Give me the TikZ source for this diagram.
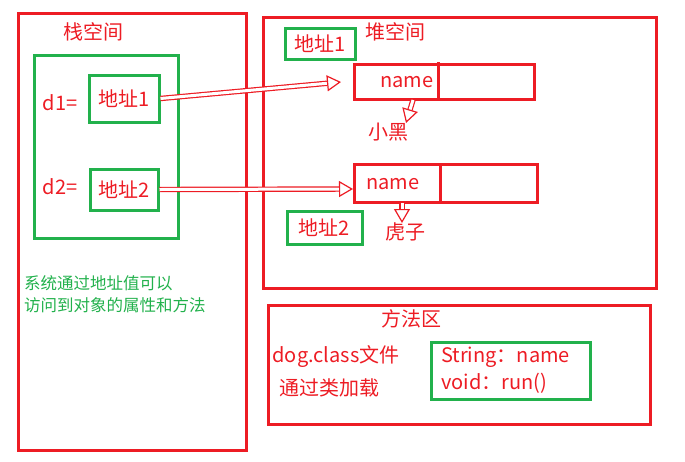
\documentclass[tikz,border=0pt]{standalone}
\usepackage{fontspec}
\setmainfont{Noto Sans CJK SC}
\usetikzlibrary{positioning,arrows.meta}
\definecolor{pred}{RGB}{237,28,36}
\definecolor{pgreen}{RGB}{34,177,76}

\begin{document}
\begin{tikzpicture}[x=1pt,y=-1pt,
  redbox/.style={rectangle, draw=pred, line width=3pt, inner sep=0pt},
  greenbox/.style={rectangle, draw=pgreen, line width=3pt, inner sep=0pt, text=pred},
  lbl/.style={text=pred, inner sep=0pt},
  ptr/.style={draw=pred, line width=1.2pt, double, double distance=3pt,
    -{Triangle[open, length=14pt, width=16pt, line width=1.2pt, fill=white]}},
  font=\fontsize{20}{22}\selectfont]
  \useasboundingbox (0,0) rectangle (685,461);
  % three memory areas
  \node[redbox, minimum width=228pt, minimum height=437pt] (stack) at (132,231.5) {};
  \node[redbox, minimum width=393pt, minimum height=271pt] (heap) at (459.5,152.5) {};
  \node[redbox, minimum width=382pt, minimum height=119pt] (method) at (459,364.5) {};
  \node[lbl] (stacktitle) at (93,32) {栈空间};
  \node[lbl] (heaptitle) at (395,32) {堆空间};
  \node[lbl] (methodtitle) at (411,319) {方法区};

  % stack
  \node[greenbox, minimum width=144pt, minimum height=183pt] (frame) at (106,146.5) {};
  \node[greenbox, minimum width=70pt, minimum height=47pt] (addr1) at (124,98.5) {地址1};
  \node[greenbox, minimum width=68pt, minimum height=41pt] (addr2) at (124,189.5) {地址2};
  \node[lbl] (d1) at (60,103) {d1=};
  \node[lbl] (d2) at (60,187) {d2=};
  \node[lbl, text=pgreen, anchor=west, align=left, font=\fontsize{16.5}{22}\selectfont]
    (note) at (24,294) {系统通过地址值可以\\访问到对象的属性和方法};

  % heap
  \node[greenbox, minimum width=70pt, minimum height=31pt] (haddr1) at (320,43.5) {地址1};
  \node[greenbox, minimum width=75pt, minimum height=33pt] (haddr2) at (324.5,227.5) {地址2};
  \node[redbox, minimum width=180pt, minimum height=35pt] (obj1) at (444,81.5) {};
  \node[redbox, minimum width=183pt, minimum height=38pt] (obj2) at (445.5,183) {};
  \draw[pred, line width=3pt] (438,62) -- (438,99);
  \draw[pred, line width=3pt] (440,164) -- (440,202);
  \node[lbl] (name1) at (407,82) {name};
  \node[lbl] (name2) at (393,184) {name};
  \node[lbl] (val1) at (388,132) {小黑};
  \node[lbl] (val2) at (405,232) {虎子};

  % method area
  \node[lbl] (dogclass) at (336,357) {dog.class文件};
  \node[lbl] (load) at (329,388) {通过类加载};
  \node[greenbox, minimum width=159pt, minimum height=57pt] (members) at (510.5,370.5) {};
  \node[lbl, anchor=west, align=left, font=\fontsize{20}{27}\selectfont]
    (fields) at (441,370) {String：name\\void：run()};

  % references
  \coordinate (t1) at (341,82);
  \coordinate (t2) at (353,189);
  \coordinate (s3) at (413,100);
  \coordinate (t3) at (406,123);
  \coordinate (s4) at (402,203);
  \coordinate (t4) at (402,223);
  \draw[ptr] (addr1.east) -- (t1);
  \draw[ptr] (addr2.east) -- (t2);
  \draw[ptr] (s3) -- (t3);
  \draw[ptr] (s4) -- (t4);
\end{tikzpicture}
\end{document}
